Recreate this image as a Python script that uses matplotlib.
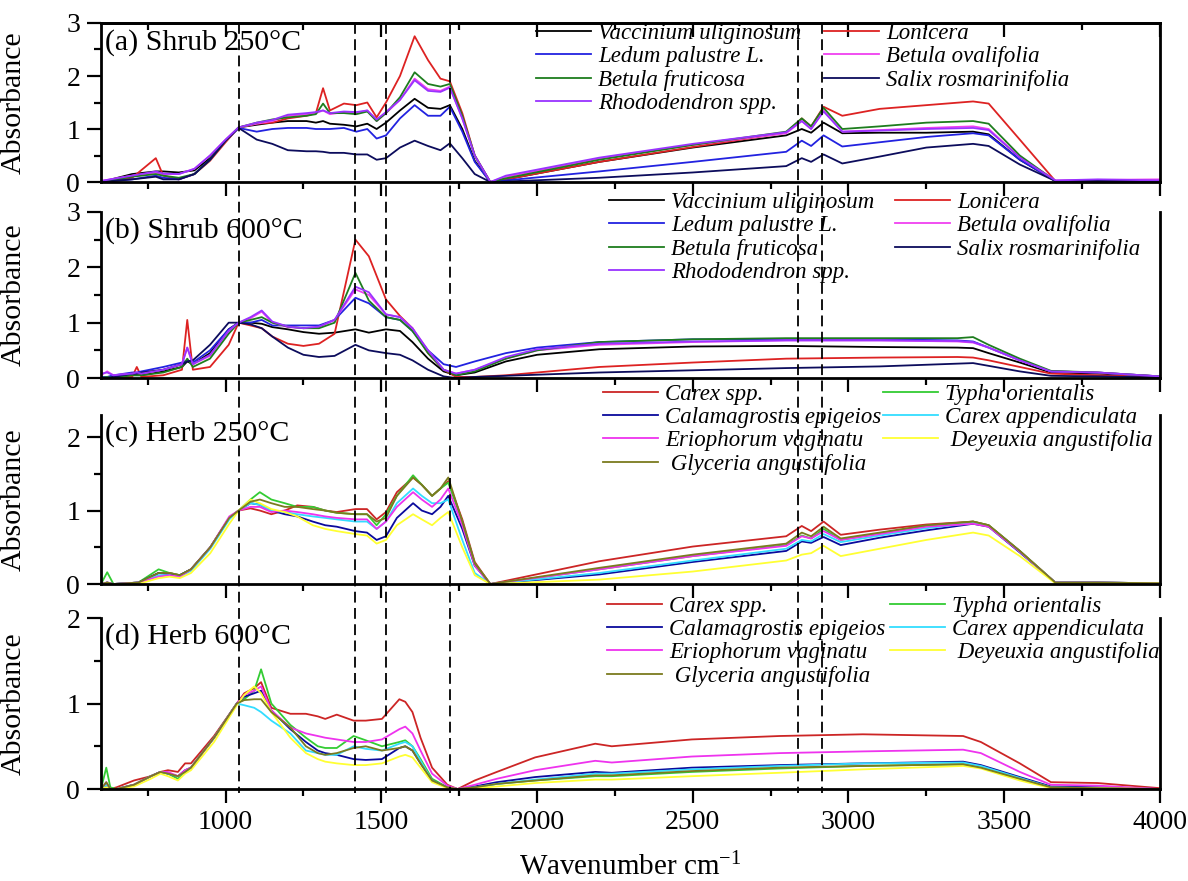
import matplotlib
matplotlib.use("Agg")
import matplotlib.pyplot as plt
from matplotlib.ticker import MultipleLocator, FixedLocator
from matplotlib.lines import Line2D
import matplotlib.transforms as mtransforms

plt.rcParams['font.family'] = ['Liberation Serif', 'DejaVu Serif']
plt.rcParams['mathtext.fontset'] = 'custom'
plt.rcParams['mathtext.rm'] = 'Liberation Serif'
plt.rcParams['mathtext.it'] = 'Liberation Serif:italic'

# ---------------- data ----------------
x_major_ticks = [1000, 1500, 2000, 2500, 3000, 3500, 4000]
x_tick_labels = ["1000", "1500", "2000", "2500", "3000", "3500", "4000"]
dashed_wn = [1042, 1415, 1515, 1722, 2838, 2915]

panel_titles = ["(a) Shrub 250°C", "(b) Shrub 600°C", "(c) Herb 250°C", "(d) Herb 600°C"]
shrub_names = ["Vaccinium uliginosum", "Lonicera", "Ledum palustre L.", "Betula ovalifolia",
               "Betula fruticosa", "Salix rosmarinifolia", "Rhododendron spp."]
shrub_colors = ["#000000", "#dd2222", "#2222e0", "#f040f0", "#1e7d1e", "#0c0c5c", "#9933ff"]
herb_names = ["Carex spp.", "Typha orientalis", "Calamagrostis epigeios", "Carex appendiculata",
              "Eriophorum vaginatu", " Deyeuxia angustifolia", " Glyceria angustifolia"]
herb_colors = ["#cc2525", "#33cc33", "#0a0a9c", "#33ddff", "#ee33ee", "#ffff33", "#7b7b1f"]

# Panel (a) Shrub 250 C
wn_a = [600, 700, 776, 800, 850, 900, 950, 1000, 1042, 1100, 1150, 1200, 1260, 1290, 1313, 1335,
        1380, 1420, 1455, 1485, 1515, 1560, 1607, 1650, 1690, 1720, 1760, 1800, 1850, 1900, 2200,
        2500, 2800, 2850, 2880, 2920, 2980, 3100, 3250, 3400, 3450, 3550, 3664, 3800, 4000]
a_vaccinium = [0.0, 0.15, 0.2, 0.2, 0.18, 0.22, 0.45, 0.78, 1.03, 1.08, 1.12, 1.15, 1.15, 1.12, 1.15, 1.1,
               1.08, 1.05, 1.1, 1.0, 1.12, 1.35, 1.57, 1.4, 1.38, 1.45, 1.0, 0.4, 0.0, 0.05, 0.38,
               0.65, 0.88, 1.0, 0.93, 1.12, 0.92, 0.93, 0.93, 0.95, 0.9, 0.42, 0.02, 0.02, 0.02]
a_lonicera = [0.0, 0.08, 0.45, 0.12, 0.05, 0.15, 0.4, 0.75, 1.03, 1.1, 1.12, 1.2, 1.25, 1.3, 1.77, 1.35,
              1.48, 1.45, 1.5, 1.22, 1.5, 2.0, 2.75, 2.3, 1.95, 1.9, 1.3, 0.5, 0.0, 0.05, 0.38,
              0.66, 0.93, 1.2, 1.05, 1.42, 1.25, 1.38, 1.45, 1.52, 1.48, 0.8, 0.02, 0.03, 0.02]
a_ledum = [0.0, 0.05, 0.12, 0.08, 0.05, 0.15, 0.42, 0.78, 1.02, 0.95, 1.0, 1.02, 1.02, 1.0, 1.0, 1.0,
           1.02, 0.95, 1.0, 0.82, 0.88, 1.2, 1.45, 1.25, 1.25, 1.42, 0.95, 0.38, 0.0, 0.03, 0.2,
           0.38, 0.57, 0.78, 0.68, 0.88, 0.67, 0.75, 0.85, 0.92, 0.88, 0.42, 0.02, 0.02, 0.02]
a_betula_ov = [0.02, 0.12, 0.18, 0.15, 0.15, 0.25, 0.5, 0.8, 1.03, 1.1, 1.15, 1.25, 1.28, 1.3, 1.35, 1.28,
               1.32, 1.3, 1.35, 1.15, 1.3, 1.55, 1.95, 1.75, 1.72, 1.8, 1.2, 0.5, 0.0, 0.1, 0.44,
               0.7, 0.92, 1.15, 1.0, 1.35, 0.95, 0.98, 1.02, 1.05, 1.0, 0.47, 0.03, 0.04, 0.05]
a_betula_fr = [0.0, 0.1, 0.15, 0.12, 0.08, 0.15, 0.42, 0.78, 1.03, 1.12, 1.18, 1.22, 1.25, 1.28, 1.48, 1.3,
               1.3, 1.28, 1.33, 1.15, 1.3, 1.6, 2.07, 1.85, 1.8, 1.85, 1.25, 0.5, 0.0, 0.07, 0.42,
               0.7, 0.95, 1.2, 1.05, 1.4, 1.0, 1.05, 1.12, 1.15, 1.1, 0.5, 0.02, 0.02, 0.02]
a_salix = [0.0, 0.05, 0.1, 0.05, 0.05, 0.15, 0.42, 0.78, 1.02, 0.8, 0.72, 0.6, 0.58, 0.58, 0.57, 0.55,
           0.55, 0.52, 0.52, 0.42, 0.45, 0.65, 0.78, 0.68, 0.6, 0.73, 0.45, 0.15, 0.0, 0.01, 0.08,
           0.18, 0.3, 0.45, 0.38, 0.52, 0.35, 0.48, 0.65, 0.72, 0.68, 0.33, 0.02, 0.02, 0.02]
a_rhodo = [0.02, 0.12, 0.2, 0.16, 0.15, 0.25, 0.5, 0.8, 1.03, 1.12, 1.17, 1.27, 1.3, 1.32, 1.35, 1.3,
           1.33, 1.32, 1.35, 1.18, 1.32, 1.55, 1.92, 1.72, 1.7, 1.78, 1.2, 0.5, 0.0, 0.12, 0.46,
           0.72, 0.94, 1.15, 1.0, 1.33, 0.95, 0.97, 1.0, 1.02, 0.98, 0.46, 0.03, 0.05, 0.03]

# Panel (b) Shrub 600 C
wn_b = [600, 620, 640, 700, 715, 730, 800, 860, 877, 895, 950, 1010, 1042, 1080, 1116, 1150, 1200,
        1250, 1300, 1350, 1417, 1460, 1515, 1560, 1600, 1650, 1700, 1740, 1800, 1900, 2000, 2200,
        2500, 2800, 3100, 3350, 3400, 3450, 3550, 3650, 3800, 4000]
b_vaccinium = [0.0, 0.02, 0.02, 0.05, 0.05, 0.05, 0.12, 0.2, 0.3, 0.25, 0.45, 0.88, 1.0, 1.0, 0.98, 0.92, 0.88,
               0.83, 0.8, 0.82, 0.88, 0.82, 0.88, 0.85, 0.65, 0.35, 0.12, 0.05, 0.1, 0.3, 0.42, 0.52,
               0.57, 0.58, 0.56, 0.55, 0.54, 0.45, 0.28, 0.1, 0.08, 0.03]
b_lonicera = [0.0, 0.0, 0.0, 0.02, 0.2, 0.02, 0.05, 0.15, 1.05, 0.15, 0.2, 0.6, 1.0, 0.95, 0.9, 0.75, 0.62,
              0.58, 0.62, 0.8, 2.5, 2.2, 1.42, 1.12, 0.9, 0.45, 0.15, 0.02, 0.02, 0.05, 0.1, 0.2,
              0.28, 0.35, 0.37, 0.38, 0.37, 0.32, 0.2, 0.08, 0.05, 0.02]
b_ledum = [0.02, 0.02, 0.05, 0.1, 0.1, 0.12, 0.2, 0.28, 0.32, 0.28, 0.5, 0.88, 1.0, 1.0, 1.05, 0.95, 0.95,
           0.95, 0.95, 1.05, 1.45, 1.35, 1.1, 1.05, 0.85, 0.5, 0.25, 0.2, 0.3, 0.45, 0.55, 0.65,
           0.7, 0.7, 0.7, 0.68, 0.66, 0.55, 0.32, 0.12, 0.1, 0.03]
b_betula_ov = [0.05, 0.12, 0.05, 0.08, 0.1, 0.08, 0.15, 0.25, 0.55, 0.25, 0.4, 0.85, 1.0, 1.08, 1.2, 1.0, 0.92,
               0.9, 0.92, 1.05, 1.6, 1.5, 1.15, 1.1, 0.9, 0.5, 0.15, 0.08, 0.15, 0.35, 0.5, 0.6,
               0.65, 0.68, 0.68, 0.66, 0.64, 0.55, 0.32, 0.12, 0.1, 0.03]
b_betula_fr = [0.0, 0.02, 0.0, 0.05, 0.05, 0.05, 0.1, 0.2, 0.35, 0.2, 0.35, 0.8, 1.0, 1.05, 1.1, 1.0, 0.93,
               0.9, 0.9, 1.0, 1.9, 1.4, 1.1, 1.05, 0.85, 0.45, 0.15, 0.05, 0.12, 0.35, 0.5, 0.65,
               0.7, 0.72, 0.72, 0.72, 0.74, 0.6, 0.35, 0.13, 0.1, 0.03]
b_salix = [0.0, 0.0, 0.02, 0.08, 0.08, 0.1, 0.15, 0.25, 0.3, 0.32, 0.6, 1.0, 1.0, 0.97, 0.9, 0.75, 0.55,
           0.42, 0.38, 0.4, 0.6, 0.5, 0.45, 0.42, 0.32, 0.15, 0.03, 0.0, 0.02, 0.04, 0.06, 0.1,
           0.14, 0.18, 0.21, 0.26, 0.27, 0.22, 0.12, 0.04, 0.03, 0.01]
b_rhodo = [0.08, 0.1, 0.05, 0.08, 0.1, 0.08, 0.15, 0.25, 0.55, 0.25, 0.42, 0.85, 1.0, 1.1, 1.22, 1.02, 0.93,
           0.9, 0.93, 1.05, 1.65, 1.55, 1.15, 1.1, 0.9, 0.5, 0.15, 0.08, 0.15, 0.38, 0.52, 0.62,
           0.66, 0.68, 0.68, 0.67, 0.65, 0.55, 0.32, 0.12, 0.1, 0.03]

# Panel (c) Herb 250 C
wn_c = [600, 620, 640, 720, 785, 820, 853, 889, 951, 1012, 1042, 1080, 1110, 1147, 1190, 1230, 1280,
        1320, 1357, 1417, 1454, 1485, 1515, 1550, 1602, 1630, 1663, 1690, 1715, 1760, 1800, 1850,
        2200, 2500, 2800, 2850, 2880, 2920, 2975, 3100, 3250, 3400, 3450, 3550, 3664, 3800, 4000]
c_carex = [0.0, 0.02, 0.0, 0.02, 0.15, 0.15, 0.12, 0.2, 0.5, 0.9, 1.0, 1.03, 1.0, 0.95, 1.0, 1.07, 1.05,
           1.0, 0.98, 1.02, 1.02, 0.88, 0.98, 1.25, 1.45, 1.35, 1.2, 1.3, 1.4, 0.88, 0.3, 0.0,
           0.31, 0.51, 0.65, 0.79, 0.72, 0.85, 0.67, 0.74, 0.81, 0.85, 0.8, 0.45, 0.02, 0.02, 0.01]
c_typha = [0.0, 0.16, 0.0, 0.02, 0.2, 0.15, 0.12, 0.2, 0.5, 0.9, 1.0, 1.15, 1.25, 1.15, 1.1, 1.05, 1.05,
           1.0, 0.97, 0.95, 0.95, 0.8, 0.95, 1.2, 1.48, 1.35, 1.2, 1.3, 1.38, 0.85, 0.28, 0.0,
           0.2, 0.38, 0.53, 0.66, 0.62, 0.75, 0.6, 0.69, 0.79, 0.85, 0.8, 0.45, 0.02, 0.02, 0.01]
c_calama = [0.0, 0.02, 0.0, 0.02, 0.15, 0.13, 0.12, 0.2, 0.5, 0.9, 1.0, 1.1, 1.08, 1.0, 0.95, 0.92, 0.85,
            0.8, 0.78, 0.72, 0.7, 0.6, 0.65, 0.9, 1.1, 1.0, 0.95, 1.05, 1.2, 0.75, 0.25, 0.0,
            0.13, 0.3, 0.45, 0.58, 0.56, 0.64, 0.53, 0.63, 0.73, 0.82, 0.78, 0.43, 0.02, 0.02, 0.01]
c_carex_app = [0.0, 0.02, 0.0, 0.02, 0.12, 0.12, 0.1, 0.18, 0.48, 0.88, 1.0, 1.1, 1.08, 1.0, 0.98, 0.95, 0.92,
               0.9, 0.88, 0.85, 0.85, 0.75, 0.85, 1.1, 1.3, 1.2, 1.1, 1.1, 1.15, 0.6, 0.15, 0.0,
               0.15, 0.32, 0.48, 0.6, 0.58, 0.68, 0.57, 0.66, 0.76, 0.83, 0.79, 0.44, 0.02, 0.02, 0.01]
c_erioph = [0.0, 0.02, 0.0, 0.02, 0.1, 0.12, 0.1, 0.2, 0.5, 0.92, 1.0, 1.05, 1.05, 0.98, 1.0, 0.98, 0.95,
            0.92, 0.9, 0.88, 0.88, 0.75, 0.85, 1.05, 1.25, 1.15, 1.05, 1.15, 1.3, 0.8, 0.25, 0.0,
            0.2, 0.38, 0.52, 0.65, 0.62, 0.72, 0.6, 0.68, 0.78, 0.82, 0.78, 0.44, 0.02, 0.02, 0.01]
c_deyeux = [0.0, 0.0, 0.0, 0.0, 0.08, 0.1, 0.08, 0.15, 0.42, 0.82, 1.0, 1.15, 1.1, 1.02, 0.98, 0.92, 0.8,
            0.75, 0.72, 0.68, 0.66, 0.55, 0.6, 0.8, 0.95, 0.88, 0.8, 0.9, 0.98, 0.5, 0.12, 0.0,
            0.06, 0.17, 0.32, 0.4, 0.42, 0.52, 0.38, 0.48, 0.6, 0.7, 0.66, 0.38, 0.01, 0.01, 0.01]
c_glyc = [0.0, 0.02, 0.0, 0.02, 0.15, 0.15, 0.12, 0.2, 0.5, 0.9, 1.0, 1.12, 1.15, 1.1, 1.05, 1.05, 1.02,
          1.0, 0.97, 0.95, 0.95, 0.85, 0.9, 1.2, 1.45, 1.35, 1.2, 1.3, 1.45, 0.85, 0.28, 0.0,
          0.22, 0.4, 0.55, 0.7, 0.65, 0.78, 0.62, 0.7, 0.8, 0.85, 0.8, 0.45, 0.02, 0.02, 0.01]

# Panel (d) Herb 600 C
wn_d = [600, 617, 630, 650, 706, 760, 791, 815, 847, 870, 889, 963, 1036, 1060, 1092, 1114, 1147,
        1208, 1258, 1296, 1320, 1357, 1411, 1450, 1502, 1558, 1577, 1600, 1626, 1663, 1712, 1745,
        1800, 1871, 1994, 2187, 2240, 2497, 2778, 3046, 3368, 3425, 3550, 3650, 3800, 4000]
d_carex = [0.0, 0.05, 0.0, 0.02, 0.1, 0.15, 0.2, 0.22, 0.2, 0.3, 0.3, 0.62, 1.0, 1.12, 1.18, 1.25, 0.95,
           0.88, 0.88, 0.85, 0.82, 0.87, 0.8, 0.8, 0.82, 1.05, 1.02, 0.9, 0.6, 0.25, 0.05, 0.0,
           0.1, 0.2, 0.37, 0.53, 0.5, 0.58, 0.62, 0.64, 0.62, 0.55, 0.3, 0.08, 0.07, 0.01]
d_typha = [0.0, 0.25, 0.02, 0.0, 0.05, 0.15, 0.2, 0.18, 0.12, 0.2, 0.25, 0.6, 1.0, 1.05, 1.15, 1.4, 1.0,
           0.75, 0.6, 0.5, 0.48, 0.48, 0.62, 0.57, 0.5, 0.55, 0.57, 0.5, 0.35, 0.12, 0.02, 0.0,
           0.02, 0.06, 0.1, 0.15, 0.15, 0.2, 0.24, 0.27, 0.29, 0.25, 0.12, 0.02, 0.01, 0.0]
d_calama = [0.0, 0.05, 0.0, 0.0, 0.05, 0.15, 0.2, 0.18, 0.15, 0.22, 0.25, 0.6, 1.0, 1.08, 1.12, 1.15, 0.92,
            0.7, 0.55, 0.45, 0.42, 0.4, 0.35, 0.34, 0.35, 0.48, 0.5, 0.45, 0.3, 0.1, 0.02, 0.0,
            0.03, 0.08, 0.14, 0.2, 0.19, 0.25, 0.28, 0.3, 0.32, 0.28, 0.14, 0.03, 0.02, 0.0]
d_carex_app = [0.0, 0.05, 0.0, 0.0, 0.05, 0.15, 0.2, 0.18, 0.15, 0.2, 0.25, 0.6, 1.0, 0.98, 0.95, 0.9, 0.8,
               0.65, 0.45, 0.42, 0.4, 0.4, 0.5, 0.47, 0.45, 0.53, 0.55, 0.5, 0.33, 0.1, 0.02, 0.0,
               0.02, 0.06, 0.11, 0.18, 0.18, 0.23, 0.27, 0.3, 0.31, 0.27, 0.13, 0.02, 0.01, 0.0]
d_erioph = [0.0, 0.08, 0.0, 0.0, 0.05, 0.15, 0.2, 0.2, 0.15, 0.22, 0.25, 0.6, 1.0, 1.1, 1.15, 1.2, 0.92,
            0.72, 0.65, 0.62, 0.6, 0.58, 0.55, 0.55, 0.58, 0.7, 0.73, 0.65, 0.45, 0.18, 0.04, 0.0,
            0.05, 0.12, 0.22, 0.33, 0.31, 0.38, 0.42, 0.44, 0.46, 0.42, 0.2, 0.05, 0.04, 0.0]
d_deyeux = [0.0, 0.02, 0.0, 0.0, 0.03, 0.12, 0.18, 0.15, 0.1, 0.18, 0.22, 0.55, 0.98, 1.1, 1.2, 1.12, 0.9,
            0.6, 0.42, 0.35, 0.32, 0.3, 0.28, 0.28, 0.3, 0.38, 0.4, 0.37, 0.25, 0.08, 0.01, 0.0,
            0.01, 0.03, 0.07, 0.11, 0.11, 0.15, 0.19, 0.23, 0.27, 0.24, 0.1, 0.01, 0.01, 0.0]
d_glyc = [0.0, 0.08, 0.0, 0.0, 0.05, 0.15, 0.2, 0.18, 0.15, 0.2, 0.25, 0.6, 1.0, 1.04, 1.05, 1.05, 0.9,
          0.72, 0.5, 0.42, 0.4, 0.42, 0.48, 0.5, 0.45, 0.48, 0.5, 0.45, 0.3, 0.1, 0.02, 0.0,
          0.02, 0.06, 0.1, 0.16, 0.16, 0.21, 0.25, 0.27, 0.29, 0.25, 0.12, 0.02, 0.01, 0.0]

# ---------------- figure ----------------
fig = plt.figure(figsize=(11.88, 8.81), dpi=100)
rects = [[0.0850, 0.7934, 0.8914, 0.1805],
         [0.0850, 0.5709, 0.8914, 0.1885],
         [0.0850, 0.3371, 0.8914, 0.1918],
         [0.0850, 0.1044, 0.8914, 0.1941]]
ylims = [3.0, 3.0, 2.3, 2.0]
y_major = [[0, 1, 2, 3], [0, 1, 2, 3], [0, 1, 2], [0, 1, 2]]
title_y = [0.88, 0.886, 0.893, 0.889]

panels = [
    (wn_a, [a_vaccinium, a_lonicera, a_ledum, a_betula_ov, a_betula_fr, a_salix, a_rhodo], shrub_names, shrub_colors),
    (wn_b, [b_vaccinium, b_lonicera, b_ledum, b_betula_ov, b_betula_fr, b_salix, b_rhodo], shrub_names, shrub_colors),
    (wn_c, [c_carex, c_typha, c_calama, c_carex_app, c_erioph, c_deyeux, c_glyc], herb_names, herb_colors),
    (wn_d, [d_carex, d_typha, d_calama, d_carex_app, d_erioph, d_deyeux, d_glyc], herb_names, herb_colors),
]
shrub_order = [0, 2, 4, 6, 1, 3, 5]
herb_order = [0, 2, 4, 6, 1, 3, 5]
leg_anchor = [(0.411, 1.0), (0.480, 1.12), (0.474, 1.185), (0.478, 1.13)]
leg_colspace = [1.0, 0.9, 0.1, 0.2]

axes = []
for i, (wn, series, names, colors) in enumerate(panels):
    ax = fig.add_axes(rects[i])
    axes.append(ax)
    handles = []
    for s, nm, col in zip(series, names, colors):
        h, = ax.plot(wn, s, color=col, lw=1.3, label=nm)
        handles.append(h)
    ax.set_xlim(600, 4000)
    ax.set_ylim(0, ylims[i])
    ax.xaxis.set_major_locator(FixedLocator(x_major_ticks))
    ax.xaxis.set_minor_locator(MultipleLocator(250))
    ax.yaxis.set_major_locator(FixedLocator(y_major[i]))
    ax.yaxis.set_minor_locator(MultipleLocator(0.5))
    ax.tick_params(which='major', direction='out', length=10, width=1.6, labelsize=20, pad=5)
    ax.tick_params(which='minor', direction='out', length=5, width=1.6)
    ax.tick_params(top=False, right=False)
    for sp in ax.spines.values():
        sp.set_linewidth(2.0)
    if i > 0:
        ax.spines['top'].set_visible(False)
    if i < 3:
        ax.tick_params(labelbottom=False)
    else:
        ax.set_xticklabels(x_tick_labels)
    ax.set_ylabel("Absorbance", fontsize=21.5)
    ax.yaxis.set_label_coords(-0.07, 0.5)
    ax.text(0.004, title_y[i], panel_titles[i], transform=ax.transAxes, fontsize=21.5,
            ha='left', va='center')
    order = shrub_order if i < 2 else herb_order
    leg = ax.legend([handles[k] for k in order], [names[k] for k in order], ncol=2,
                    loc='upper left', bbox_to_anchor=leg_anchor[i], borderaxespad=0, borderpad=0,
                    frameon=False, handlelength=2.4, handletextpad=0.3, labelspacing=0.1,
                    columnspacing=leg_colspace[i], prop={'family': 'Liberation Serif',
                                                         'style': 'italic', 'size': 16.5})

# top ticks (inside) for panel a
sec = axes[0].secondary_xaxis('top')
sec.xaxis.set_major_locator(FixedLocator(x_major_ticks))
sec.xaxis.set_minor_locator(MultipleLocator(250))
sec.tick_params(which='major', direction='in', length=10, width=1.6, labeltop=False)
sec.tick_params(which='minor', direction='in', length=5, width=1.6)
sec.spines['top'].set_linewidth(2.0)

# dashed reference lines across all panels
trans = mtransforms.blended_transform_factory(axes[3].transData, fig.transFigure)
for xv in dashed_wn:
    fig.add_artist(Line2D([xv, xv], [0.974, 0.100], transform=trans, color='black',
                          lw=1.3, linestyle=(0, (6, 3)), zorder=5))

fig.text(630 / 1188, 1 - 867 / 881, "Wavenumber cm$^{-1}$", fontsize=21, ha='center', va='center')

fig.savefig("out.png", dpi=100)
